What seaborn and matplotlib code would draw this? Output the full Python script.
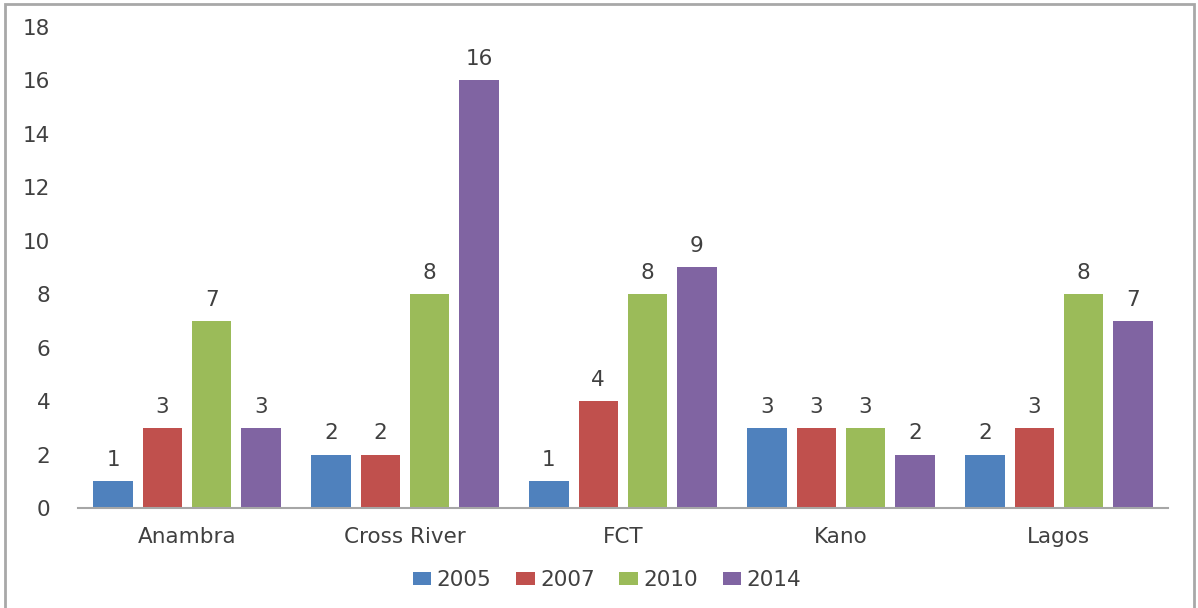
import matplotlib
matplotlib.use("Agg")
import matplotlib.pyplot as plt
import seaborn as sns
import pandas as pd
from matplotlib.patches import Rectangle

# Data
states = ["Anambra", "Cross River", "FCT", "Kano", "Lagos"]
years = ["2005", "2007", "2010", "2014"]
v2005 = [1, 2, 1, 3, 2]
v2007 = [3, 2, 4, 3, 3]
v2010 = [7, 8, 8, 3, 8]
v2014 = [3, 16, 9, 2, 7]
y_ticks = [0, 2, 4, 6, 8, 10, 12, 14, 16, 18]

colors = ["#4F81BD", "#C0504D", "#9BBB59", "#8064A2"]
text_color = "#404040"
font_size = 15.5

df = pd.DataFrame({
    "State": states * 4,
    "Year": [y for y in years for _ in states],
    "Count": v2005 + v2007 + v2010 + v2014,
})

sns.set_theme(style="white")
plt.rcParams["font.family"] = ["DejaVu Sans"]

fig = plt.figure(figsize=(11.98, 6.08), dpi=100)
ax = fig.add_axes([0.0651, 0.1645, 0.9098, 0.7911])

sns.barplot(data=df, x="State", y="Count", hue="Year", order=states,
            hue_order=years, palette=colors, width=0.905, gap=0.2,
            saturation=1, ax=ax, legend=True, linewidth=0)

# Value labels above each bar
for container in ax.containers:
    ax.bar_label(container, fmt="%d", padding=8, fontsize=font_size, color=text_color)

ax.set_ylim(0, 18)
ax.set_yticks(y_ticks)
ax.set_xlim(-0.5, len(states) - 0.5)
ax.set_xlabel("")
ax.set_ylabel("")
ax.tick_params(axis="y", length=0, pad=20, labelsize=font_size, labelcolor=text_color)
ax.tick_params(axis="x", length=0, pad=14, labelsize=font_size, labelcolor=text_color)

for side in ["top", "right", "left"]:
    ax.spines[side].set_visible(False)
ax.spines["bottom"].set_color("#A6A6A6")
ax.spines["bottom"].set_linewidth(1.5)

# Legend below the plot
handles, labels = ax.get_legend_handles_labels()
ax.legend_.remove()
fig.legend(handles, labels, loc="center", bbox_to_anchor=(607 / 1198, 1 - 580 / 608),
           ncol=4, frameon=False, fontsize=font_size, handlelength=0.85, handleheight=0.55,
           handletextpad=0.25, columnspacing=1.15, labelcolor=text_color)

# Outer chart border
fig.patches.append(Rectangle((5 / 1198, -0.01), 1189 / 1198, 1.01 - 4 / 608,
                             transform=fig.transFigure, fill=False,
                             edgecolor="#A8A8A8", linewidth=2))

fig.savefig("out.png", dpi=100)
